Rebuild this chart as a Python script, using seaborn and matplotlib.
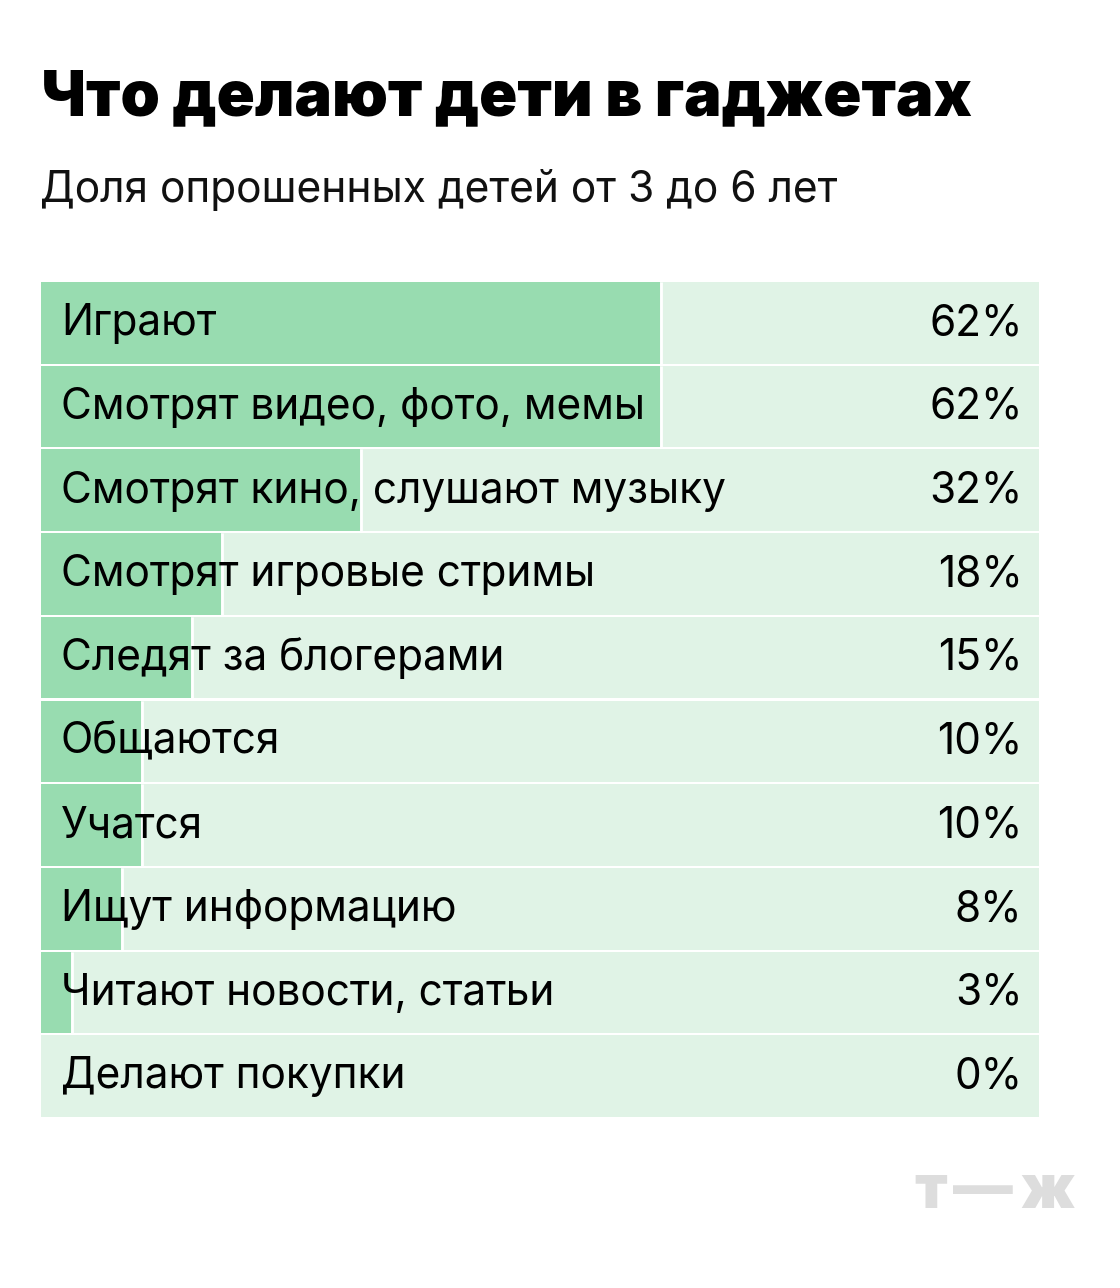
import matplotlib
matplotlib.use("Agg")
import matplotlib.pyplot as plt
import seaborn as sns
import pandas as pd

categories = [
    "Играют",
    "Смотрят видео, фото, мемы",
    "Смотрят кино, слушают музыку",
    "Смотрят игровые стримы",
    "Следят за блогерами",
    "Общаются",
    "Учатся",
    "Ищут информацию",
    "Читают новости, статьи",
    "Делают покупки",
]
values = [62, 62, 32, 18, 15, 10, 10, 8, 3, 0]

title = "Что делают дети в гаджетах"
subtitle = "Доля опрошенных детей от 3 до 6 лет"

DARK = "#98dcb0"
LIGHT = "#e0f3e6"

sns.set_theme(style="white")
plt.rcParams["font.family"] = ["Inter", "DejaVu Sans"]

df = pd.DataFrame({"cat": categories, "val": values, "full": [100] * len(values)})

fig = plt.figure(figsize=(11.2, 12.88), dpi=100)
ax = fig.add_axes([41 / 1120, 170 / 1288, 998 / 1120, 837 / 1288])

# фон на всю ширину
sns.barplot(data=df, x="full", y="cat", order=categories, color=LIGHT,
            width=0.975, edgecolor="none", linewidth=0, saturation=1, ax=ax)
# значения поверх
sns.barplot(data=df, x="val", y="cat", order=categories, color=DARK,
            width=0.975, edgecolor="none", linewidth=0, saturation=1, ax=ax)

# белая вертикальная щель справа от заливки
for p in ax.patches[len(categories):]:
    w = p.get_width()
    if w > 0:
        ax.plot([w + 0.1, w + 0.1], [p.get_y(), p.get_y() + p.get_height()],
                color="white", lw=2, solid_capstyle="butt", zorder=3)

for i, (c, v) in enumerate(zip(categories, values)):
    ax.text(2.0, i + 0.01, c, va="center", ha="left", fontsize=30.5, color="black", zorder=4)
    ax.text(98.35, i + 0.01, f"{v}%", va="center", ha="right", fontsize=30.5, color="black", zorder=4)

ax.set_xlim(0, 100)
ax.set_ylim(len(categories) - 0.5, -0.5)
ax.set_axis_off()

fig.text(41 / 1120, 1 - 99 / 1288, title, fontsize=45.4, fontweight="black",
         ha="left", va="center", color="black")
fig.text(40 / 1120, 1 - 190 / 1288, subtitle, fontsize=30.6,
         ha="left", va="center", color="#111111")

# логотип
logo_kw = dict(fontsize=43, fontweight="black", ha="center", va="center", color="#dddddd")
fig.text(931 / 1120, 1 - 1192 / 1288, "т", **logo_kw)
fig.text(983 / 1120, 1 - 1192 / 1288, "—", **logo_kw)
fig.text(1047 / 1120, 1 - 1192 / 1288, "ж", **logo_kw)

fig.savefig("out.png", dpi=100, facecolor="white")
